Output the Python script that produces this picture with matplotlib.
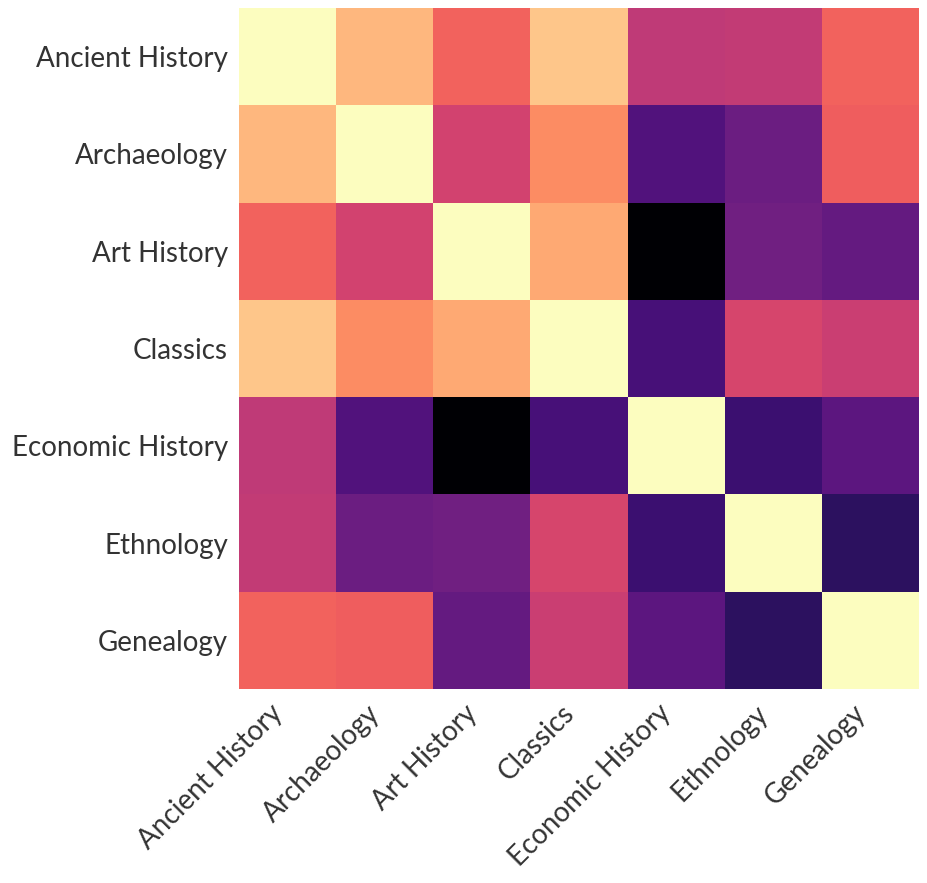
import numpy as np
import matplotlib
matplotlib.use('Agg')
import matplotlib.pyplot as plt

subjects = ['Ancient History', 'Archaeology', 'Art History', 'Classics',
            'Economic History', 'Ethnology', 'Genealogy']

# similarity values (diagonal = 1), symmetric
row_ancient = [1.00, 0.85, 0.67, 0.88, 0.52, 0.53, 0.67]
row_archaeo = [0.85, 1.00, 0.57, 0.76, 0.25, 0.32, 0.66]
row_art = [0.67, 0.57, 1.00, 0.82, 0.00, 0.33, 0.30]
row_classics = [0.88, 0.76, 0.82, 1.00, 0.23, 0.58, 0.55]
row_economic = [0.52, 0.25, 0.00, 0.23, 1.00, 0.20, 0.28]
row_ethno = [0.53, 0.32, 0.33, 0.58, 0.20, 1.00, 0.165]
row_genea = [0.67, 0.66, 0.30, 0.55, 0.28, 0.165, 1.00]

matrix = np.array([row_ancient, row_archaeo, row_art, row_classics,
                   row_economic, row_ethno, row_genea])

plt.rcParams['font.family'] = ['Lato', 'DejaVu Sans']
TEXT = '#333333'

fig = plt.figure(figsize=(9.28, 8.83), dpi=100)
ax = fig.add_axes([0.2575, 0.2197, 0.7328, 0.7713])
ax.pcolormesh(matrix, cmap='magma', vmin=0, vmax=1)
ax.set_xlim(0, len(subjects))
ax.set_ylim(len(subjects), 0)

ticks = np.arange(len(subjects)) + 0.5
ax.set_xticks(ticks)
ax.set_yticks(ticks)
ax.set_xticklabels(subjects, rotation=45, ha='right', fontsize=20, color=TEXT)
ax.set_yticklabels(subjects, fontsize=20, color=TEXT)
ax.tick_params(length=0, pad=8)
for s in ax.spines.values():
    s.set_visible(False)

fig.savefig('out.png', dpi=100)
